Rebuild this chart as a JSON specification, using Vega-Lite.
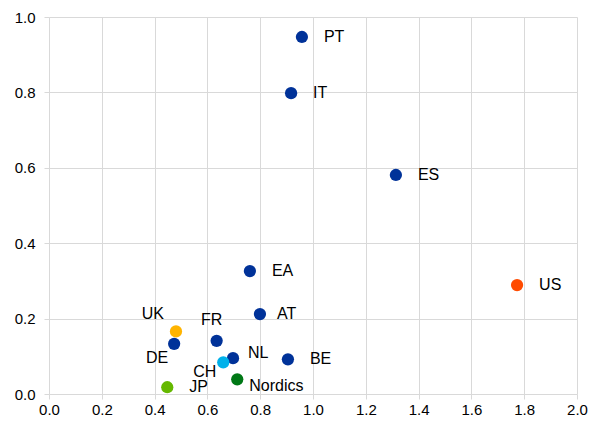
{
  "$schema": "https://vega.github.io/schema/vega-lite/v6.json",
  "width": 528,
  "height": 377,
  "autosize": {"type": "none"},
  "padding": {"left": 49, "top": 17, "right": 21, "bottom": 27},
  "background": "white",
  "config": {
    "view": {"stroke": null},
    "font": "Liberation Sans",
    "axis": {
      "grid": true,
      "gridColor": "#d9d9d9",
      "gridWidth": 1,
      "domain": false,
      "tickColor": "#d9d9d9",
      "tickSize": 5,
      "labelFlush": false,
      "labelFont": "Liberation Sans",
      "labelFontSize": 15,
      "labelColor": "#000000",
      "title": null
    }
  },
  "data": {
    "values": [
      {"label": "PT", "x": 0.958, "y": 0.947},
      {"label": "IT", "x": 0.917, "y": 0.798},
      {"label": "ES", "x": 1.314, "y": 0.581},
      {"label": "US", "x": 1.773, "y": 0.289},
      {"label": "EA", "x": 0.761, "y": 0.326},
      {"label": "AT", "x": 0.799, "y": 0.212},
      {"label": "BE", "x": 0.905, "y": 0.092},
      {"label": "NL", "x": 0.697, "y": 0.095},
      {"label": "FR", "x": 0.635, "y": 0.141},
      {"label": "CH", "x": 0.660, "y": 0.084},
      {"label": "Nordics", "x": 0.713, "y": 0.039},
      {"label": "UK", "x": 0.481, "y": 0.166},
      {"label": "DE", "x": 0.474, "y": 0.133},
      {"label": "JP", "x": 0.448, "y": 0.018}
    ]
  },
  "encoding": {
    "x": {"field": "x", "type": "quantitative", "scale": {"domain": [0, 2], "nice": false}, "axis": {"values": [0, 0.2, 0.4, 0.6, 0.8, 1.0, 1.2, 1.4, 1.6, 1.8, 2.0], "format": ".1f", "labelPadding": 3}},
    "y": {"field": "y", "type": "quantitative", "scale": {"domain": [0, 1], "nice": false}, "axis": {"values": [0, 0.2, 0.4, 0.6, 0.8, 1.0], "format": ".1f", "labelPadding": 9}}
  },
  "layer": [
    {
      "mark": {"type": "circle", "size": 150, "opacity": 1},
      "encoding": {
        "color": {
          "field": "label",
          "type": "nominal",
          "legend": null,
          "scale": {
            "domain": ["PT", "IT", "ES", "US", "EA", "AT", "BE", "NL", "FR", "CH", "Nordics", "UK", "DE", "JP"],
            "range": ["#003299", "#003299", "#003299", "#FF4B00", "#003299", "#003299", "#003299", "#003299", "#003299", "#00B1EA", "#007816", "#FFB400", "#003299", "#65B800"]
          }
        }
      }
    },
    {
      "transform": [{"filter": {"field": "label", "oneOf": ["PT", "IT", "ES", "US", "EA", "BE", "JP"]}}],
      "mark": {"type": "text", "align": "left", "baseline": "middle", "dx": 22, "fontSize": 16, "color": "#000000"},
      "encoding": {"text": {"field": "label"}}
    },
    {
      "transform": [{"filter": {"field": "label", "equal": "AT"}}],
      "mark": {"type": "text", "align": "left", "baseline": "middle", "dx": 17, "fontSize": 16, "color": "#000000"},
      "encoding": {"text": {"field": "label"}}
    },
    {
      "transform": [{"filter": {"field": "label", "equal": "NL"}}],
      "mark": {"type": "text", "align": "left", "baseline": "middle", "dx": 15, "dy": -5, "fontSize": 16, "color": "#000000"},
      "encoding": {"text": {"field": "label"}}
    },
    {
      "transform": [{"filter": {"field": "label", "equal": "Nordics"}}],
      "mark": {"type": "text", "align": "left", "baseline": "middle", "dx": 12, "dy": 7, "fontSize": 16, "color": "#000000"},
      "encoding": {"text": {"field": "label"}}
    },
    {
      "transform": [{"filter": {"field": "label", "equal": "CH"}}],
      "mark": {"type": "text", "align": "left", "baseline": "middle", "dx": -30, "dy": 10, "fontSize": 16, "color": "#000000"},
      "encoding": {"text": {"field": "label"}}
    },
    {
      "transform": [{"filter": {"field": "label", "equal": "FR"}}],
      "mark": {"type": "text", "align": "center", "baseline": "middle", "dx": -5, "dy": -21, "fontSize": 16, "color": "#000000"},
      "encoding": {"text": {"field": "label"}}
    },
    {
      "transform": [{"filter": {"field": "label", "equal": "UK"}}],
      "mark": {"type": "text", "align": "right", "baseline": "middle", "dx": -12, "dy": -17, "fontSize": 16, "color": "#000000"},
      "encoding": {"text": {"field": "label"}}
    },
    {
      "transform": [{"filter": {"field": "label", "equal": "DE"}}],
      "mark": {"type": "text", "align": "right", "baseline": "middle", "dx": -6, "dy": 14, "fontSize": 16, "color": "#000000"},
      "encoding": {"text": {"field": "label"}}
    }
  ]
}
